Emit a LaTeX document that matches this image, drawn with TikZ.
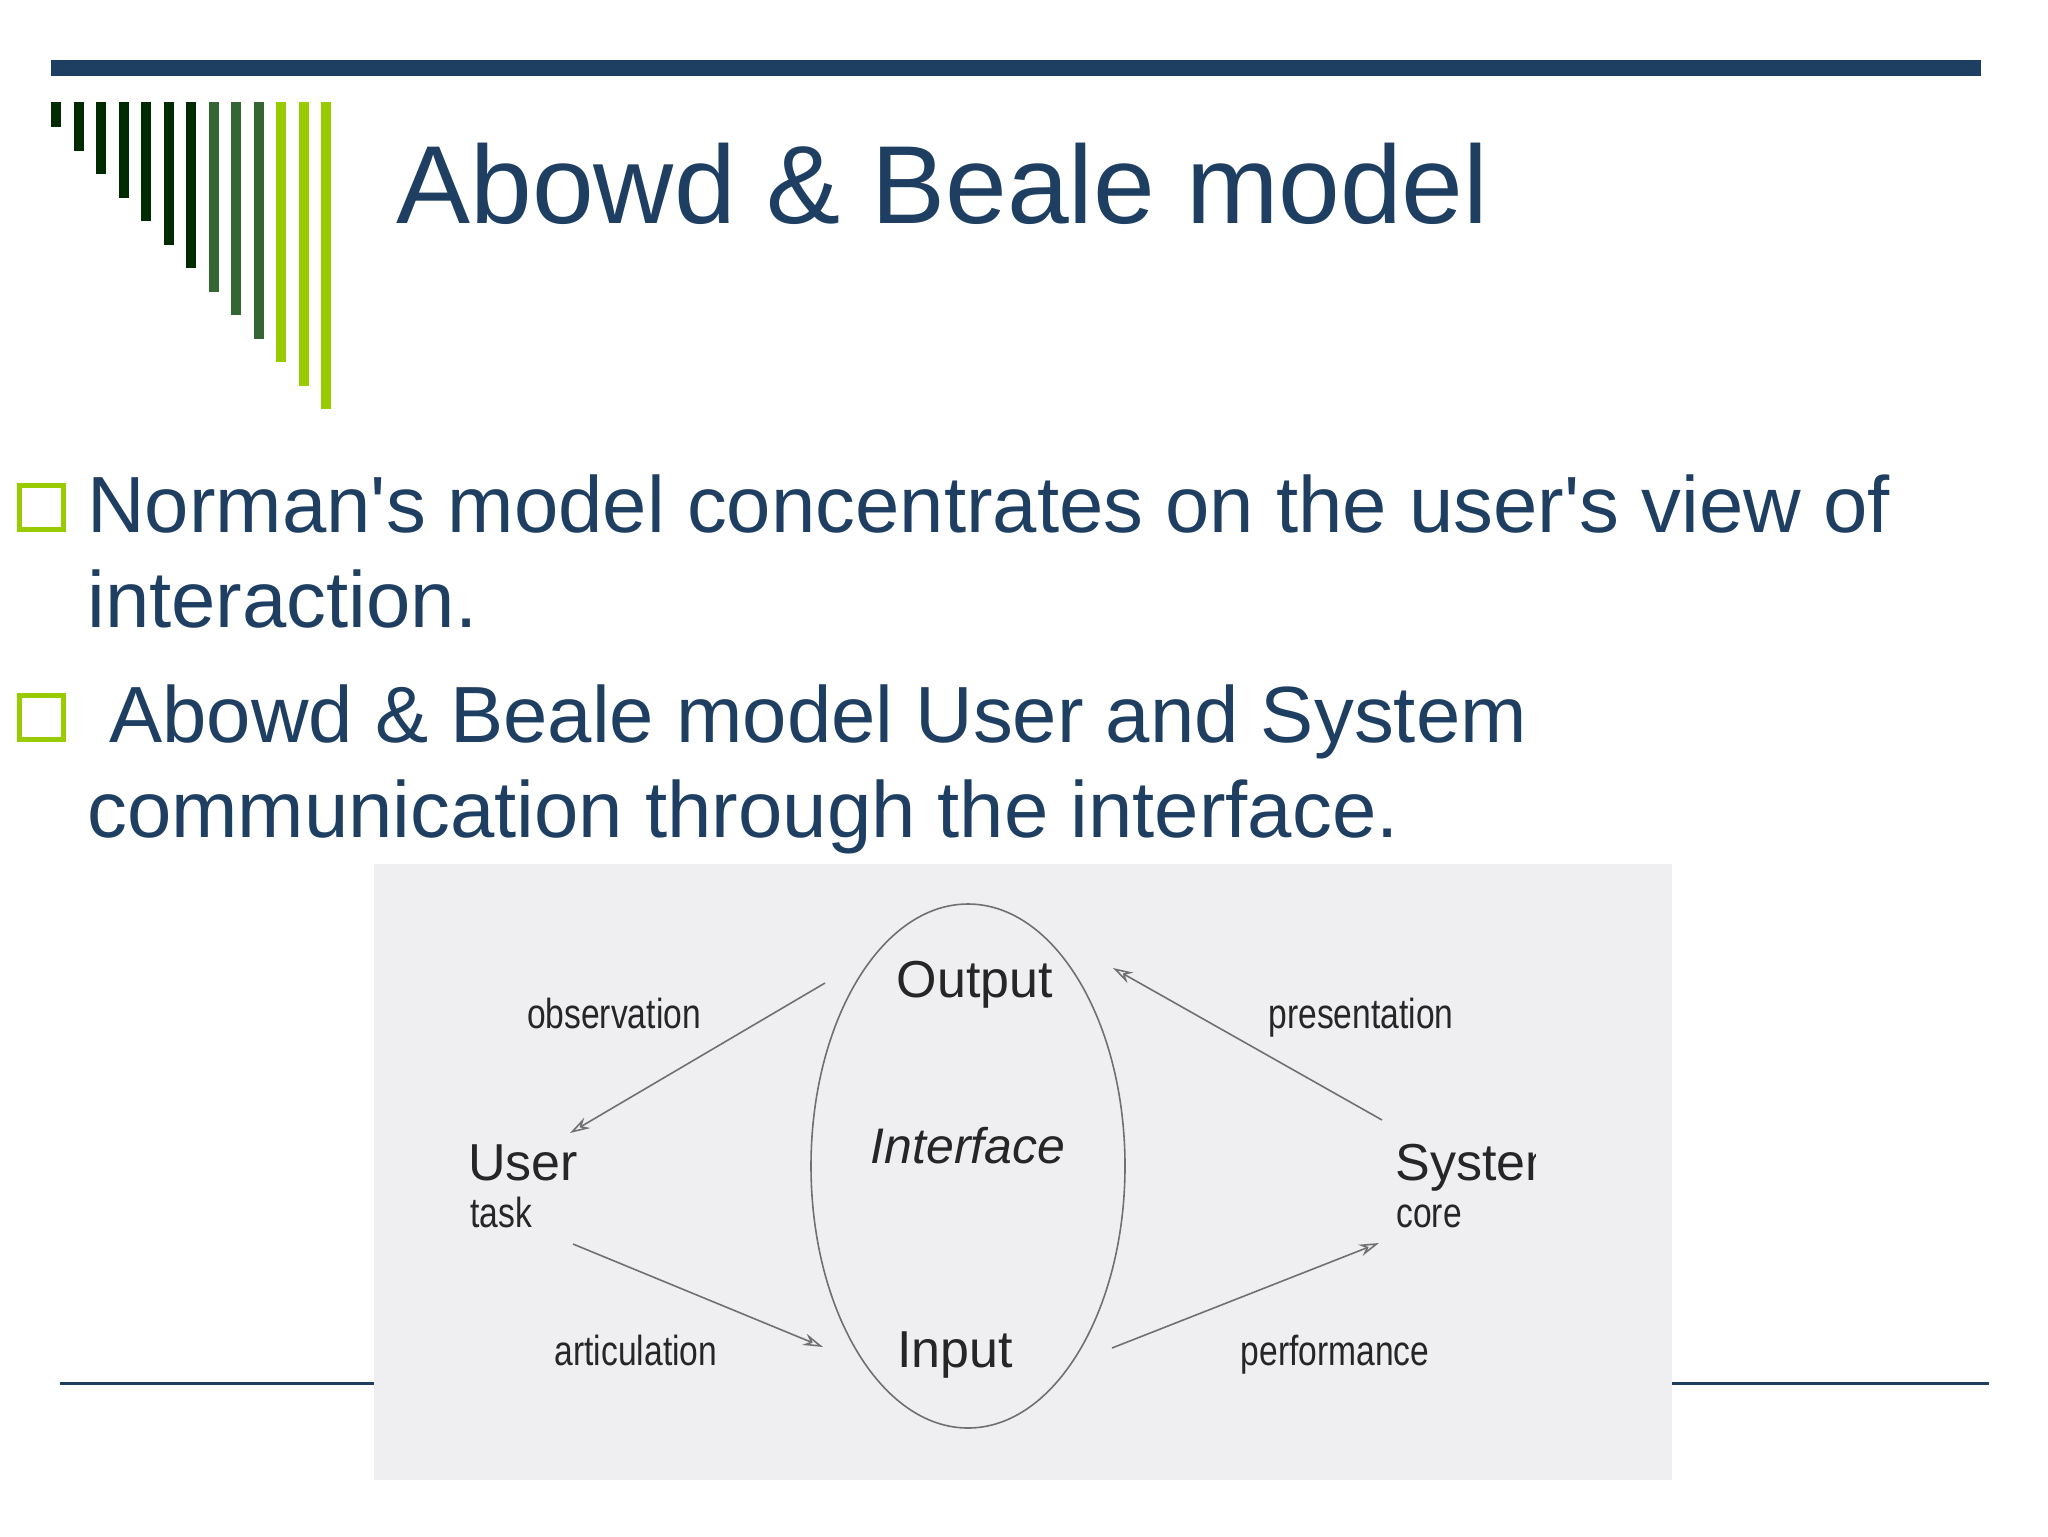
\documentclass[tikz,border=0pt]{standalone}
\usepackage{fontspec}
\setmainfont{Liberation Sans}
\newfontfamily\labelfont[FakeStretch=0.8]{Liberation Sans}
\usetikzlibrary{arrows.meta,shapes.geometric}
\definecolor{slideblue}{HTML}{1F3F62}
\definecolor{bardark}{HTML}{002B00}
\definecolor{barmid}{HTML}{336633}
\definecolor{barlime}{HTML}{99CC00}
\definecolor{panelgray}{HTML}{EFEEF1}
\definecolor{inkgray}{HTML}{707070}
\begin{document}
\begin{tikzpicture}[x=0.5pt,y=-0.5pt,
    bodytext/.style={anchor=base west,inner sep=0,text=slideblue,font=\fontsize{39.85}{48}\selectfont},
    bulletbox/.style={draw=barlime,line width=2.5pt,minimum size=22pt,inner sep=0},
    biglabel/.style={inner sep=0,text=black!85,font=\fontsize{26}{30}\selectfont},
    smalllabel/.style={inner sep=0,text=black!85,font=\labelfont\fontsize{21}{25}\selectfont},
    flow/.style={draw=inkgray,line width=0.8pt,-{Stealth[open,length=10pt,width=6pt]}}]

        \useasboundingbox (0,0) rectangle (2048,1536);

        % Slide decoration
        \fill[slideblue] (51,60) rectangle (1981,76);
        \foreach \i/\barcol in {0/bardark,1/bardark,2/bardark,3/bardark,4/bardark,5/bardark,6/bardark,
                                7/barmid,8/barmid,9/barmid,10/barlime,11/barlime,12/barlime}
            \fill[\barcol] (51+22.5*\i,102) rectangle (61+22.5*\i,127+23.5*\i);
        \draw[slideblue,line width=1.5pt] (60,1383) -- (374,1383);
        \draw[slideblue,line width=1.5pt] (1672,1383) -- (1989,1383);

        % Title and bullets
        \node[anchor=base west,inner sep=0,text=slideblue,font=\fontsize{55.5}{60}\selectfont] (title) at (396,223) {Abowd \& Beale model};
        \node[bulletbox] (bul1) at (41.5,507.5) {};
        \node[bulletbox] (bul2) at (41.5,717.5) {};
        \node[bodytext] (line1) at (87,532) {Norman\textquotesingle s model concentrates on the user\textquotesingle s view of};
        \node[bodytext] (line2) at (87,627) {interaction.};
        \node[bodytext] (line3) at (109,742) {Abowd \& Beale model User and System};
        \node[bodytext] (line4) at (87,837) {communication through the interface.};

        % Diagram panel
        \fill[panelgray] (374,864) rectangle (1672,1480);
        \node[draw=inkgray,line width=0.8pt,ellipse,minimum width=157pt,minimum height=262pt,inner sep=0] (iface) at (968,1166) {};

        \node[biglabel,anchor=base] (output) at (975,997) {Output};
        \node[biglabel,anchor=base,font=\fontsize{25}{30}\selectfont\itshape] (interface) at (968,1163) {Interface};
        \node[biglabel,anchor=base] (input) at (955,1367) {Input};
        \node[biglabel,anchor=base west] (user) at (468,1180) {User};
        \node[smalllabel,anchor=base west] (task) at (470,1227) {task};
        \begin{scope}
            \clip (1380,1100) rectangle (1535,1200);
            \node[biglabel,anchor=base west] (system) at (1395,1180) {System};
        \end{scope}
        \node[smalllabel,anchor=base west] (core) at (1396,1227) {core};

        \node[smalllabel,anchor=base] (obslbl) at (614,1028) {observation};
        \node[smalllabel,anchor=base] (preslbl) at (1361,1028) {presentation};
        \node[smalllabel,anchor=base] (artlbl) at (636,1365) {articulation};
        \node[smalllabel,anchor=base] (perflbl) at (1335,1365) {performance};

        % Arrow ends
        \coordinate (obsfrom) at (825,983);
        \coordinate (obsto) at (570,1133);
        \coordinate (presfrom) at (1382,1120);
        \coordinate (presto) at (1113,968);
        \coordinate (artfrom) at (573,1244);
        \coordinate (artto) at (823,1347);
        \coordinate (perffrom) at (1112,1348);
        \coordinate (perfto) at (1379,1243);

        \draw[flow] (obsfrom) -- (obsto);
        \draw[flow] (presfrom) -- (presto);
        \draw[flow] (artfrom) -- (artto);
        \draw[flow] (perffrom) -- (perfto);

    \end{tikzpicture}
\end{document}
